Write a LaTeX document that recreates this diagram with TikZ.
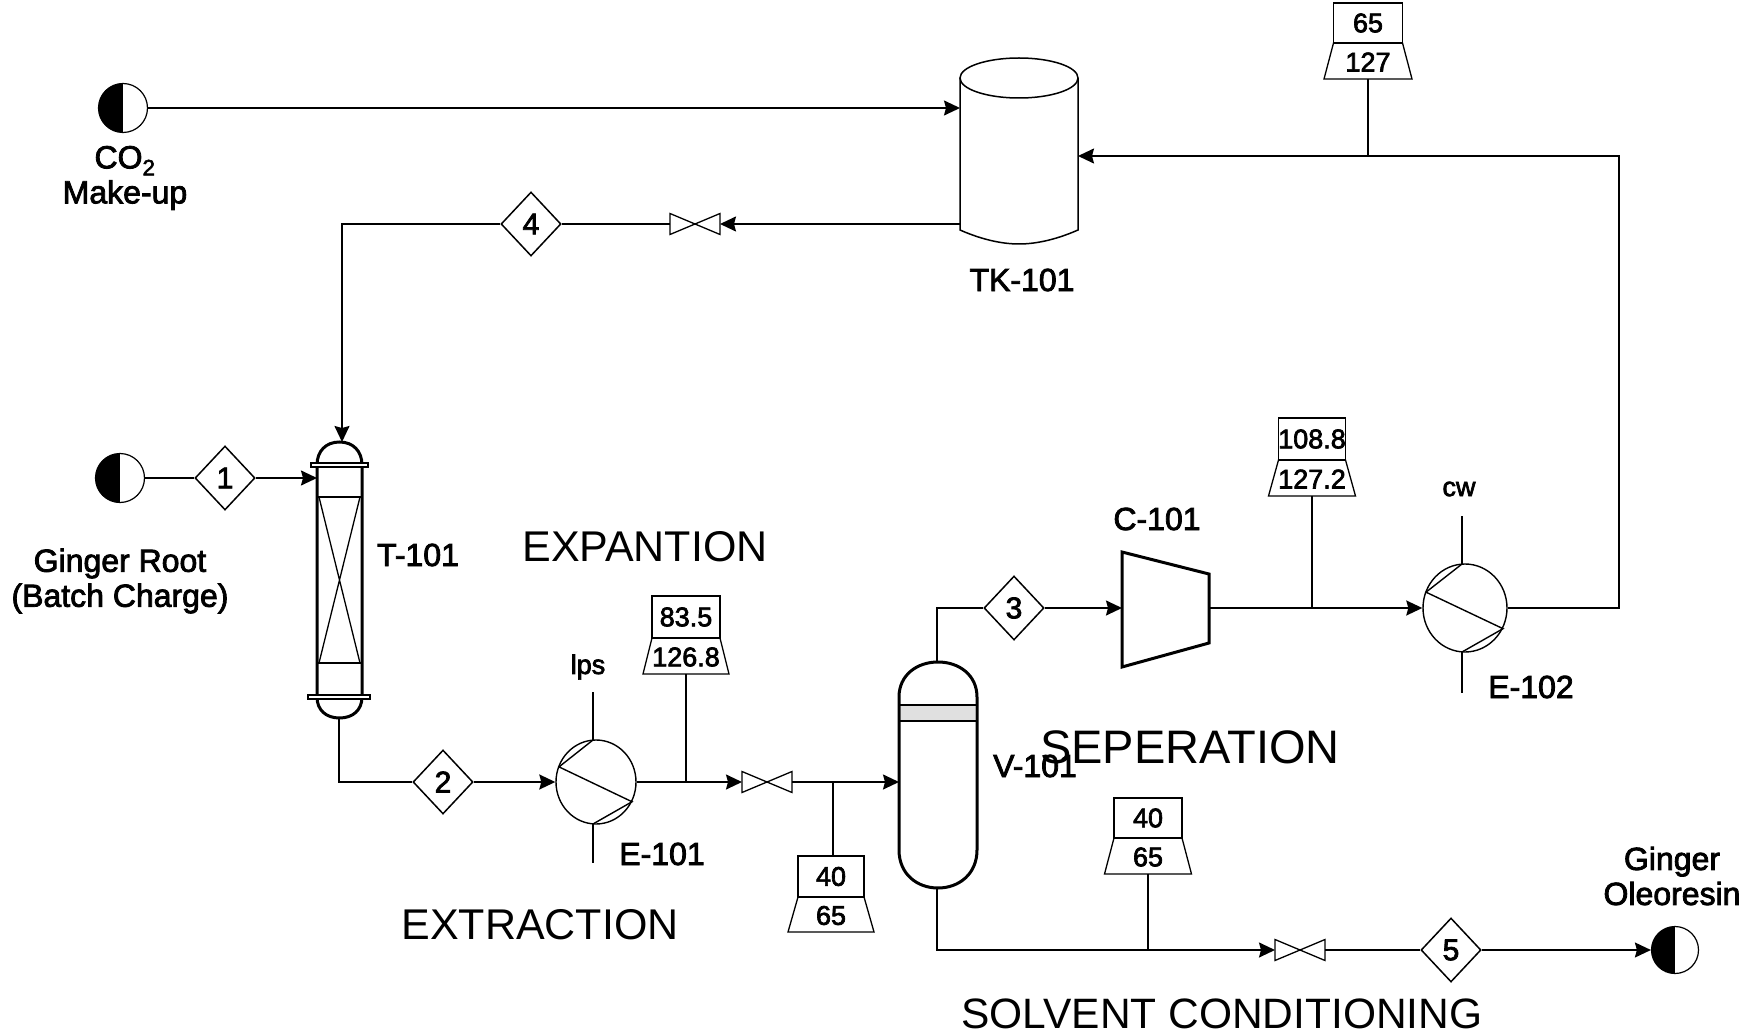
\documentclass[tikz,border=0pt]{standalone}
\usepackage{fontspec}
\setmainfont{Liberation Sans}
\newfontfamily\lblfont[FakeBold=2.5]{Liberation Sans}
\usetikzlibrary{arrows.meta,shapes.geometric}
\tikzset{
  ln/.style={line width=1.7pt,draw=black},
  arr/.style={ln,-{Stealth[length=16pt,width=15pt,inset=2pt]}},
  thick outline/.style={line width=3pt,draw=black},
  thin outline/.style={line width=1.3pt,draw=black},
  sdia/.style={diamond,draw=black,line width=1.5pt,fill=white,minimum width=60pt,minimum height=64pt,inner sep=0pt,aspect=1,font=\lblfont\fontsize{30}{30}\selectfont},
  feed/.style={circle,draw=black,line width=1.2pt,minimum size=49pt,inner sep=0pt,
    path picture={\fill[black] (path picture bounding box.north west) rectangle (path picture bounding box.south);}},
  anchorbox/.style={inner sep=0pt,outer sep=0pt},
  lbl/.style={font=\lblfont\fontsize{32}{35}\selectfont,align=center,inner sep=0pt},
  small lbl/.style={font=\lblfont\fontsize{27}{30}\selectfont,inner sep=0pt},
  section/.style={font=\fontsize{43}{46}\selectfont,inner sep=0pt},
}
% valve: name, cx, cy
\newcommand{\plantvalve}[3]{%
  \node[anchorbox,minimum width=50pt,minimum height=21pt] (#1) at (#2,#3) {};
  \draw[thin outline] (#1.north west) -- (#1.south east) -- (#1.north east) -- (#1.south west) -- cycle;}
% tag: name, cx, ytop, ymid, ybot, half rect width, half trapezoid width, upper, lower
\newcommand{\planttag}[9]{%
  \draw[thin outline] (#2-#6,#3) rectangle (#2+#6,#4);
  \draw[thin outline] (#2-#6,#4) -- (#2+#6,#4) -- (#2+#7,#5) -- (#2-#7,#5) -- cycle;
  \node[small lbl] (#1u) at (#2,{(#3+#4)/2}) {#8};
  \node[small lbl] (#1l) at (#2,{(#4+#5)/2+1}) {#9};
  \coordinate (#1) at (#2,#5);
  \coordinate (#1t) at (#2,#3);}
% exchanger: name, cx, cy, rx, ry, stem x, stem top, stem bottom
\newcommand{\plantexch}[8]{%
  \node[ellipse,draw=black,line width=1.4pt,minimum width=2*#4 pt,minimum height=2*#5 pt,inner sep=0pt] (#1) at (#2,#3) {};
  \coordinate (#1p) at (#2-#4+3,#3-#5*0.36);
  \coordinate (#1q) at (#2+#4-4,#3+#5*0.47);
  \coordinate (#1a) at (#6,#3-#5);
  \coordinate (#1b) at (#6,#3+#5);
  \draw[ln,line width=1.4pt] (#1a) -- (#1p) -- (#1q) -- (#1b);
  \coordinate (#1s) at (#6,#7);
  \coordinate (#1e) at (#6,#8);
  \draw[ln] (#1s) -- (#1a);
  \draw[ln] (#1b) -- (#1e);}
\begin{document}
\begin{tikzpicture}[x=1pt,y=-1pt]
\path[use as bounding box,fill=white] (0,0) rectangle (1757,1035);

% feeds / products
\node[feed] (co2) at (123,108) {};
\node[feed] (root) at (120,478) {};
\node[feed,minimum size=47pt] (prod) at (1675,950) {};
\node[lbl] (co2l) at (125,178) {CO\textsubscript{2}\\Make-up};
\node[lbl] (rootl) at (120,581) {Ginger Root\\(Batch Charge)};
\node[lbl] (prodl) at (1672,876) {Ginger\\Oleoresin};

% stream diamonds
\node[sdia] (s1) at (225,478) {1};
\node[sdia] (s2) at (443,782) {2};
\node[sdia] (s3) at (1014,608) {3};
\node[sdia] (s4) at (531,224) {4};
\node[sdia] (s5) at (1451,950) {5};

% T-101
\node[anchorbox,minimum width=45pt,minimum height=276pt] (t) at (339.5,580) {};
\draw[thick outline,fill=white] (317,465) .. controls (317,451) and (326,442) .. (339.5,442) .. controls (353,442) and (362,451) .. (362,465) -- (362,697) .. controls (362,710) and (353,718) .. (339.5,718) .. controls (326,718) and (317,710) .. (317,697) -- cycle;
\draw[thin outline,fill=white] (311,463) rectangle (368,467);
\draw[thin outline,fill=white] (308,695) rectangle (370,699);
\draw[thin outline] (318,497) -- (361,497) (318,663) -- (361,663);
\draw[thin outline] (319,497) -- (360,663) (360,497) -- (319,663);
\node[lbl] (tl) at (418,555) {T-101};

% TK-101
\node[anchorbox,minimum width=118pt,minimum height=188pt] (tk) at (1019,150) {};
\draw[thin outline,line width=1.5pt,fill=white] (960,78) -- (960,230) .. controls (985,241) and (1005,244) .. (1019,244) .. controls (1033,244) and (1053,241) .. (1078,230) -- (1078,78);
\draw[thin outline,line width=1.5pt,fill=white] (1019,78) ellipse [x radius=59,y radius=20];
\node[lbl] (tkl) at (1022,280) {TK-101};

% V-101
\node[anchorbox,minimum width=78pt,minimum height=226pt] (v) at (938,775) {};
\fill[black!12] (901,705) rectangle (975,721);
\draw[thick outline] (899,697) .. controls (899,675) and (917,662) .. (938,662) .. controls (959,662) and (977,675) .. (977,697) -- (977,850) .. controls (977,874) and (959,888) .. (938,888) .. controls (917,888) and (899,874) .. (899,850) -- cycle;
\draw[thin outline] (899,705) -- (977,705) (899,721) -- (977,721);
\node[lbl] (vl) at (1035,766) {V-101};

% C-101
\coordinate (cin) at (1122,608);
\coordinate (cout) at (1209,608);
\draw[thick outline,line join=miter] (1122,552) -- (1209,574) -- (1209,643) -- (1122,667) -- cycle;
\node[lbl] (cl) at (1157,519) {C-101};

% exchangers
\plantexch{ea}{596}{782}{40}{42}{593}{692}{863}
\plantexch{eb}{1465}{608}{42}{44}{1462}{516}{693}
\node[small lbl] (eal) at (588,667) {lps};
\node[lbl] (eall) at (662,854) {E-101};
\node[small lbl] (ebl) at (1459,489) {cw};
\node[lbl] (ebll) at (1531,687) {E-102};

% valves
\plantvalve{va}{695}{224}
\plantvalve{vb}{767}{782}
\plantvalve{vc}{1300}{950}

% stream tags
\planttag{ta}{1368}{3}{43}{79}{34.5}{44}{65}{127}
\planttag{tb}{686}{596}{638}{674}{34}{43}{83.5}{126.8}
\planttag{tc}{831}{856}{897}{932}{33}{43}{40}{65}
\planttag{td}{1312}{418}{460}{496}{33.5}{43.5}{108.8}{127.2}
\planttag{te}{1148}{798}{838}{874}{34}{43.5}{40}{65}

% connectors
\draw[arr] (co2.east) -- (tk.west |- co2);
\draw[ln] (root.east) -- (s1.west);
\draw[arr] (s1.east) -- (t.west |- s1);
\draw[arr] (tk.west |- va) -- (va.east);
\draw[ln] (va.west) -- (s4.east);
\coordinate (tin) at (342,442);
\draw[arr] (s4.west) -| (tin);
\coordinate (tout) at (339,718);
\draw[ln] (tout) |- (s2.west);
\draw[arr] (s2.east) -- (ea.west);
\draw[arr] (ea.east) -- (vb.west);
\draw[arr] (vb.east) -- (v.west |- vb);
\coordinate (vtop) at (937,662);
\coordinate (vbot) at (937,888);
\draw[ln] (vtop) |- (s3.west);
\draw[arr] (s3.east) -- (cin);
\draw[arr] (cout) -- (eb.west);
\coordinate (rturn) at (1619,156);
\draw[arr] (eb.east) -| (rturn) -- (tk.east |- rturn);
\draw[arr] (vbot) |- (vc.west);
\draw[ln] (vc.east) -- (s5.west);
\draw[arr] (s5.east) -- (prod.west);
\coordinate (ja) at (1368,156);
\coordinate (jb) at (686,782);
\coordinate (jc) at (833,782);
\coordinate (jd) at (1312,608);
\coordinate (je) at (1148,950);
\draw[ln] (ta) -- (ja);
\draw[ln] (tb) -- (jb);
\draw[ln] (jc) -- (jc |- tct);
\draw[ln] (td) -- (jd);
\draw[ln] (te) -- (je);

% section captions
\node[section] (c1) at (645,547) {EXPANTION};
\node[section,font=\fontsize{47}{50}\selectfont] (c2) at (1190,747) {SEPERATION};
\node[section] (c3) at (540,925) {EXTRACTION};
\node[section,font=\fontsize{42.5}{45}\selectfont] (c4) at (1222,1014) {SOLVENT CONDITIONING};
\end{tikzpicture}
\end{document}
